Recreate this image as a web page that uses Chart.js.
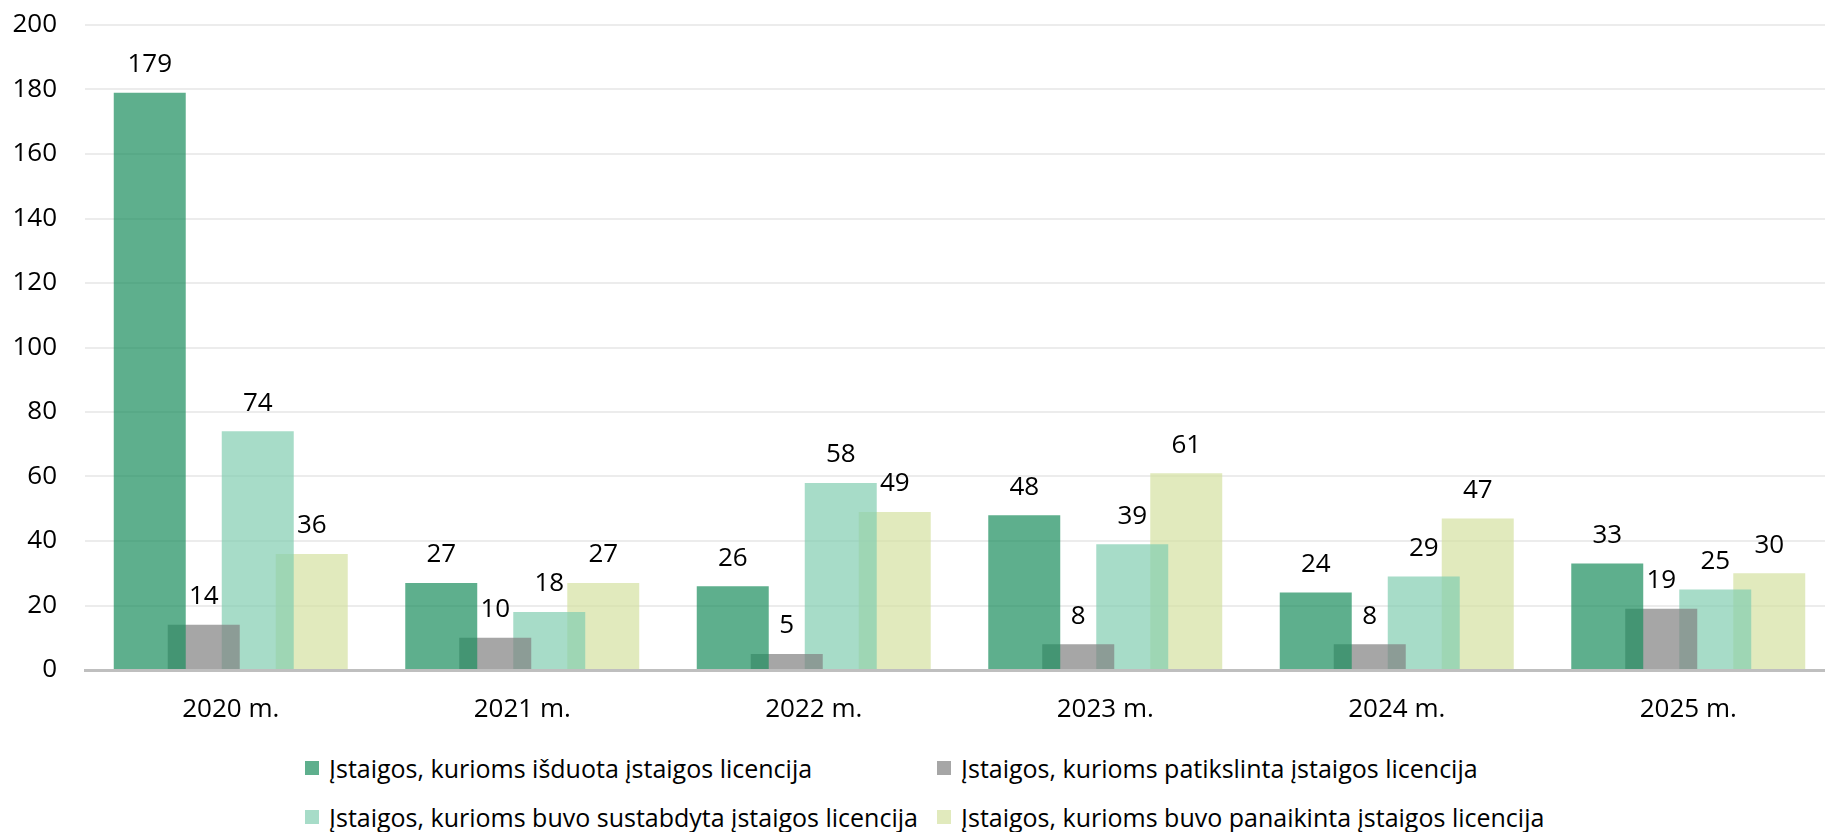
<!DOCTYPE html>
<html lang="lt">
<head>
    <meta charset="UTF-8">
    <title>Įstaigų licencijos</title>
    <script src="https://cdn.jsdelivr.net/npm/chart.js"></script>
    <style>
        body { margin: 0; background: #fff; font-family: 'Open Sans', sans-serif; overflow: hidden; }
        /* originale brėžinio plotas šiek tiek išeina už dešinio krašto */
        #wrap { position: relative; width: 1834px; height: 725px; }
        #legend {
            display: grid;
            grid-template-columns: 632px auto;
            padding-left: 305px;
            padding-top: 23px;
            row-gap: 9px;
            font-size: 25px;
            color: #000;
        }
        .item { display: flex; align-items: center; height: 40px; white-space: nowrap; }
        .box { width: 14px; height: 14px; margin-right: 10px; flex: none; }
    </style>
</head>
<body>
    <div id="wrap"><canvas id="licChart"></canvas></div>
    <div id="legend"></div>

    <script>
        const years = ['2020 m.', '2021 m.', '2022 m.', '2023 m.', '2024 m.', '2025 m.'];
        const seriesNames = [
            'Įstaigos, kurioms išduota įstaigos licencija',
            'Įstaigos, kurioms patikslinta įstaigos licencija',
            'Įstaigos, kurioms buvo sustabdyta įstaigos licencija',
            'Įstaigos, kurioms buvo panaikinta įstaigos licencija'
        ];
        const issued    = [179, 27, 26, 48, 24, 33];
        const amended   = [14, 10, 5, 8, 8, 19];
        const suspended = [74, 18, 58, 39, 29, 25];
        const revoked   = [36, 27, 49, 61, 47, 30];
        const colors = [
            'rgba(26, 141, 92, 0.7)',
            'rgba(128, 128, 128, 0.7)',
            'rgba(129, 205, 176, 0.7)',
            'rgba(212, 225, 161, 0.7)'
        ];

        // skaičiai virš stulpelių
        const valueLabels = {
            id: 'valueLabels',
            afterDatasetsDraw(chart) {
                const c = chart.ctx;
                c.save();
                c.font = '26px "Open Sans"';
                c.fillStyle = '#000';
                c.textAlign = 'center';
                c.textBaseline = 'middle';
                chart.data.datasets.forEach((ds, i) => {
                    chart.getDatasetMeta(i).data.forEach((bar, j) => {
                        c.fillText(ds.data[j], bar.x, bar.y - 28);
                    });
                });
                c.restore();
            }
        };

        const allSeries = [issued, amended, suspended, revoked];

        const chart = new Chart(document.getElementById('licChart'), {
            type: 'bar',
            data: {
                labels: years,
                datasets: allSeries.map((d, i) => ({
                    label: seriesNames[i],
                    data: d,
                    backgroundColor: colors[i],
                    borderWidth: 0,
                    categoryPercentage: 0.741,
                    barPercentage: 1.333
                }))
            },
            options: {
                responsive: true,
                maintainAspectRatio: false,
                animation: false,
                layout: { padding: { left: 0, top: 25, right: 0, bottom: 0 } },
                plugins: {
                    legend: { display: false },
                    tooltip: { enabled: false }
                },
                scales: {
                    x: {
                        grid: { display: false, drawTicks: false },
                        border: { display: true, color: '#BFBFBF', width: 3 },
                        ticks: { color: '#000', padding: 24, font: { family: 'Open Sans', size: 26 } },
                        afterFit(scale) { scale.height = 55; }
                    },
                    y: {
                        min: 0,
                        max: 200,
                        grid: { color: '#ECECEC', lineWidth: 2, drawTicks: false },
                        border: { display: false },
                        ticks: { stepSize: 20, color: '#000', padding: 28, font: { family: 'Open Sans', size: 26 } },
                        afterFit(scale) {
                            scale.width = 85;
                            scale.paddingTop = 0;
                            scale.paddingBottom = 0;
                        }
                    }
                }
            },
            plugins: [valueLabels]
        });

        // legenda tinkleliu, kaip originale
        const legend = document.getElementById('legend');
        seriesNames.forEach((name, i) => {
            const el = document.createElement('div');
            el.className = 'item';
            el.innerHTML = '<span class="box" style="background:' + colors[i] + '"></span><span>' + name + '</span>';
            legend.appendChild(el);
        });
    </script>
</body>
</html>
